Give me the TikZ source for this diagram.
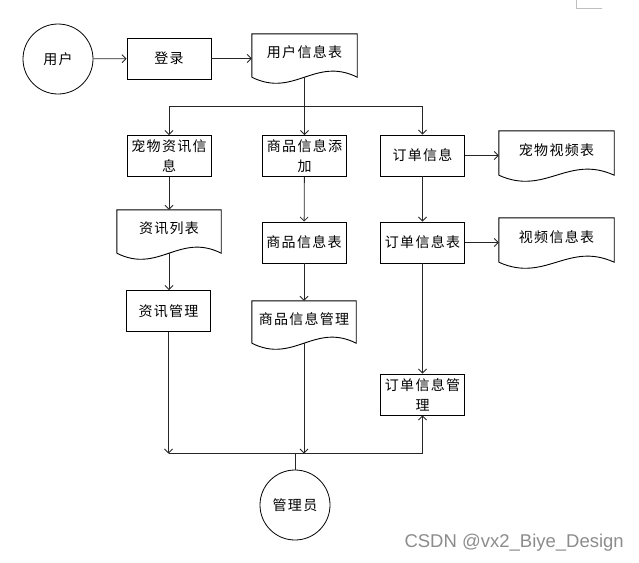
\documentclass[tikz,border=0pt]{standalone}
\usepackage{fontspec}
\newfontfamily\cnfont[LetterSpace=9]{Noto Sans CJK SC}
\newfontfamily\wmfont{Liberation Sans}
\usetikzlibrary{arrows.meta,calc,positioning}
\tikzset{
    flowLine/.style={draw=black!85, line width=0.8pt},
    flowArrow/.style={flowLine, -{Straight Barb[length=4pt,width=8pt]}},
    procBox/.style={draw, line width=0.9pt, minimum width=84pt, minimum height=41pt,
        inner sep=1pt, align=center},
    docBox/.style={minimum width=105pt, minimum height=43pt, inner sep=0pt,
        text depth=7pt, align=center},
    termCirc/.style={draw, line width=0.8pt, circle, minimum size=70pt, inner sep=0pt}
}
% document outline with a wavy bottom edge
\newcommand{\docShape}[1]{%
    \draw[line width=0.9pt] (#1.south west) -- (#1.north west) -- (#1.north east) -- (#1.south east)
        .. controls ($(#1.south west)!0.6!(#1.south east)+(0,-21)$)
        and ($(#1.south west)!0.4!(#1.south east)+(0,21)$) .. (#1.south west);}

\begin{document}
\begin{tikzpicture}[x=1pt, y=-1pt, every node/.style={font=\cnfont\fontsize{14pt}{20pt}\selectfont}]
    \useasboundingbox (0,0) rectangle (639,562);
    \node[termCirc] (user) at (58,59) {用户};
    \node[procBox] (login) at (169,58.5) {登录};
    \node[docBox] (userTab) at (304.5,55.5) {用户信息表};
    \node[procBox] (petNews) at (169,156) {宠物资讯信\\息};
    \node[procBox] (goodsAdd) at (304.5,156) {商品信息添\\加};
    \node[procBox] (order) at (422.5,155.5) {订单信息};
    \node[docBox, minimum width=115pt, minimum height=44pt] (petVideo) at (556.5,153) {宠物视频表};
    \node[docBox, minimum width=104pt] (newsList) at (169,231.5) {资讯列表};
    \node[procBox] (goodsTab) at (304,242.5) {商品信息表};
    \node[procBox] (orderTab) at (422.5,242.5) {订单信息表};
    \node[docBox, minimum width=115pt, minimum height=44pt] (videoTab) at (556.5,240) {视频信息表};
    \node[procBox] (newsMgr) at (168.5,311) {资讯管理};
    \node[docBox, minimum width=104pt, minimum height=42pt] (goodsMgr) at (304,322) {商品信息管理};
    \node[procBox] (orderMgr) at (422.5,394.5) {订单信息管\\理};
    \node[termCirc] (admin) at (295,505) {管理员};
    \foreach \d in {userTab,petVideo,videoTab,newsList,goodsMgr} {\docShape{\d}}

    \draw[flowArrow] (user) -- (login);
    \draw[flowArrow] (login.east) -- (login.east -| userTab.west);
    \draw[flowArrow] (userTab.south) -- (goodsAdd.north);
    \coordinate (split) at ($(userTab.south)!0.5!(goodsAdd.north)$);
    \draw[flowArrow] (split) -| (petNews.north);
    \draw[flowArrow] (split) -| (order.north);
    \draw[flowArrow] (order.east) -- (order.east -| petVideo.west);
    \draw[flowArrow] (order) -- (orderTab);
    \draw[flowArrow] (orderTab.east) -- (orderTab.east -| videoTab.west);
    \draw[flowArrow] (orderTab) -- (orderMgr);
    \draw[flowArrow] (petNews) -- (newsList);
    \draw[flowArrow] (newsList.south) -- (newsList.south |- newsMgr.north);
    \draw[flowArrow] (goodsAdd) -- (goodsTab);
    \draw[flowArrow] (goodsTab) -- (goodsMgr);
    \coordinate (join) at (295,453.5);
    \draw[flowArrow] (newsMgr.south) -- (newsMgr.south |- join);
    \draw[flowArrow] (goodsMgr.south) -- (goodsMgr.south |- join);
    \draw[flowLine] (newsMgr.south |- join) -- (orderMgr.south |- join);
    \draw[flowArrow] (orderMgr.south |- join) -- (orderMgr.south);
    \draw[flowLine] (admin.north) -- (admin.north |- join);

    \node[font=\wmfont\fontsize{18.5pt}{18.5pt}\selectfont, text=black!45, anchor=east, inner sep=0pt] (mark) at (624,543) {CSDN @vx2\_Biye\_Design};
    \draw[black!25, line width=0.8pt] (576,0) -- (576,8) -- (602,8);
\end{tikzpicture}
\end{document}
